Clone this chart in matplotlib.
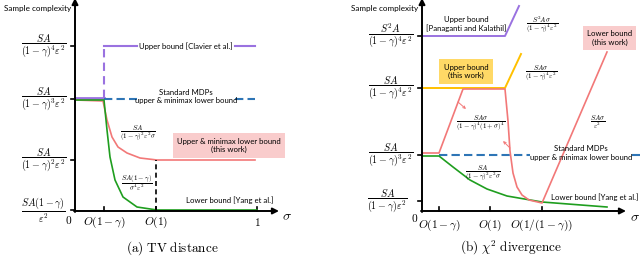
import matplotlib.pyplot as plt

plt.rcParams['mathtext.fontset'] = 'cm'
plt.rcParams['font.family'] = ['Lato', 'DejaVu Sans']

# colours (PowerPoint-like)
PURPLE = '#9a72e0'
BLUE = '#2e75b6'
GREEN = '#1f9e1f'
RED = '#f27878'
ORANGE = '#ffc000'
PINK_BOX = '#f9cccc'
YELLOW_BOX = '#ffd966'

# ---------------- (a) TV distance : schematic values (axis units) ----------------
tv_xticks = [29, 81, 182]
tv_xlabels = [r'$O(1-\gamma)$', r'$O(1)$', r'$1$']
tv_yticks = [165, 112, 51, 1]
tv_ylabels = [r'$\dfrac{SA}{(1-\gamma)^4\varepsilon^2}$',
              r'$\dfrac{SA}{(1-\gamma)^3\varepsilon^2}$',
              r'$\dfrac{SA}{(1-\gamma)^2\varepsilon^2}$',
              r'$\dfrac{SA(1-\gamma)}{\varepsilon^2}$']

tv_clavier_x = [0, 29]
tv_clavier_y = [113, 113]
tv_clavier_jump_y = [113, 165]
tv_clavier_top_x = [29, 62]
tv_clavier_tail_x = [160, 180]
tv_clavier_top_y = 165

tv_std_x = [29, 62]
tv_std_tail_x = [160, 180]
tv_std_y = 112

tv_green_x = [0, 29, 32, 35, 40, 48, 62, 82, 182]
tv_green_y = [111, 111, 81, 54, 31, 14, 4, 1, 1]

tv_red_x = [0, 28, 32, 37, 43, 52, 65, 82, 180]
tv_red_y = [111, 110, 91, 74, 64, 58, 53, 51, 51]

tv_vline_x = 81
tv_vline_y = [0, 51]

# ---------------- (b) chi^2 divergence : schematic values ----------------
chi_xticks = [17, 68, 120]
chi_xlabels = [r'$O(1-\gamma)$', r'$O(1)$', r'$O(1/(1-\gamma))$']
chi_yticks = [175, 123, 56, 10]
chi_ylabels = [r'$\dfrac{S^2A}{(1-\gamma)^4\varepsilon^2}$',
               r'$\dfrac{SA}{(1-\gamma)^4\varepsilon^2}$',
               r'$\dfrac{SA}{(1-\gamma)^3\varepsilon^2}$',
               r'$\dfrac{SA}{(1-\gamma)\varepsilon^2}$']

chi_purple_x = [0, 83, 97]
chi_purple_y = [175, 175, 205]
chi_orange_x = [0, 83, 99]
chi_orange_y = [123, 123, 157]
chi_red_x = [0, 17, 41, 83, 86, 88, 91, 95, 100, 107, 120, 185]
chi_red_y = [58, 58, 122, 122, 90, 60, 38, 24, 16, 11, 8, 159]
chi_green_x = [0, 17, 31, 48, 65, 85, 120, 185]
chi_green_y = [55, 55, 44, 31, 22, 15, 9, 4]
chi_std_x = [17, 108]
chi_std_tail_x = [210, 220]
chi_std_y = 56

fig = plt.figure(figsize=(6.4, 2.57), dpi=100)
axl = fig.add_axes([0, 0, 0.5, 1])
axr = fig.add_axes([0.5, 0, 0.5, 1])
axl.set_xlim(-75, 245)
axr.set_xlim(-102, 218)
for ax in (axl, axr):
    ax.set_ylim(-46, 211)
    ax.axis('off')

lw = 1.2
math_fs = 7.2
small_fs = 5.0
txt_fs = 5.6


def draw_axes(ax, xticks, xlabels, yticks, ylabels, xlab_y, zero_xy, sig_xy, caption, cap_x,
              last_label_x=-9):
    ax.annotate('', xy=(204, 0), xytext=(-1, 0), annotation_clip=False,
                arrowprops=dict(arrowstyle='-|>', color='black', lw=1.4,
                                mutation_scale=9, shrinkA=0, shrinkB=0))
    ax.annotate('', xy=(0, 213), xytext=(0, -1), annotation_clip=False,
                arrowprops=dict(arrowstyle='-|>', color='black', lw=1.4,
                                mutation_scale=9, shrinkA=0, shrinkB=0))
    for x, lab in zip(xticks, xlabels):
        ax.plot([x, x], [0, 4], color='black', lw=1.2)
        ax.text(x, xlab_y, lab, ha='center', va='center', fontsize=math_fs + 1)
    for i, (y, lab) in enumerate(zip(yticks, ylabels)):
        ax.plot([-4, 0], [y, y], color='black', lw=1.2)
        lx = last_label_x if i == len(yticks) - 1 else -9
        ax.text(lx, y, lab, ha='right', va='center', fontsize=math_fs)
    ax.text(zero_xy[0], zero_xy[1], r'$0$', ha='center', va='center', fontsize=math_fs + 1)
    ax.text(sig_xy[0], sig_xy[1], r'$\sigma$', ha='center', va='center', fontsize=10)
    ax.text(-4, 203, 'Sample complexity', ha='right', va='center', fontsize=txt_fs + 0.3)
    ax.text(cap_x, -37, caption, ha='center', va='center', fontsize=9.5)


draw_axes(axl, tv_xticks, tv_xlabels, tv_yticks, tv_ylabels, -11.5, (-6, -9), (212, -5),
          r'$\mathrm{(a)\ TV\ distance}$', 97)
draw_axes(axr, chi_xticks, chi_xlabels, chi_yticks, chi_ylabels, -14, (-7, -7), (213, -6),
          r'$\mathrm{(b)\ }\chi^2\mathrm{\ divergence}$', 89, last_label_x=-14)

# ---- left panel curves ----
axl.plot(tv_clavier_x, tv_clavier_y, color=PURPLE, lw=2)
axl.plot([tv_clavier_x[1]] * 2, tv_clavier_jump_y, color=PURPLE, lw=lw + 0.3, ls=(0, (4, 2.5)))
axl.plot(tv_clavier_top_x, [tv_clavier_top_y] * 2, color=PURPLE, lw=lw + 0.3)
axl.plot(tv_clavier_tail_x, [tv_clavier_top_y] * 2, color=PURPLE, lw=lw + 0.3)
axl.plot(tv_std_x, [tv_std_y] * 2, color=BLUE, lw=lw + 0.3, ls=(0, (4, 2)))
axl.plot(tv_std_tail_x, [tv_std_y] * 2, color=BLUE, lw=lw + 0.3, ls=(0, (4, 2)))
axl.plot(tv_red_x, tv_red_y, color=RED, lw=lw)
axl.plot(tv_green_x, tv_green_y, color=GREEN, lw=lw)
axl.plot([tv_vline_x] * 2, tv_vline_y, color='black', lw=1.2, ls=(0, (3, 2)))

axl.text(111, 165, 'Upper bound [Clavier et al.]', ha='center', va='center', fontsize=txt_fs)
axl.text(111, 114.5, 'Standard MDPs\nupper & minimax lower bound', ha='center', va='center',
         fontsize=txt_fs, linespacing=1.3)
axl.text(63, 78, r'$\dfrac{SA}{(1-\gamma)^2\varepsilon^2\sigma}$', ha='center', va='center',
         fontsize=small_fs)
axl.text(62, 28, r'$\dfrac{SA(1-\gamma)}{\sigma^4\varepsilon^2}$', ha='center', va='center',
         fontsize=small_fs)
axl.text(154, 65.5, 'Upper & minimax lower bound\n(this work)', ha='center', va='center',
         fontsize=txt_fs, linespacing=1.3,
         bbox=dict(boxstyle='square,pad=0.55', fc=PINK_BOX, ec='none'))
axl.text(155, 11, 'Lower bound [Yang et al.]', ha='center', va='center', fontsize=txt_fs)

# ---- right panel curves ----
axr.plot(chi_purple_x, chi_purple_y, color=PURPLE, lw=lw + 0.2)
axr.plot(chi_orange_x, chi_orange_y, color=ORANGE, lw=lw + 0.2)
axr.plot(chi_std_x, [chi_std_y] * 2, color=BLUE, lw=lw + 0.3, ls=(0, (4, 2)))
axr.plot(chi_std_tail_x, [chi_std_y] * 2, color=BLUE, lw=lw + 0.3, ls=(0, (4, 2)), clip_on=False)
axr.plot(chi_green_x, chi_green_y, color=GREEN, lw=lw)
axr.plot(chi_red_x, chi_red_y, color=RED, lw=lw)

axr.text(44, 187, 'Upper bound\n[Panaganti and Kalathil]', ha='center', va='center',
         fontsize=txt_fs, linespacing=1.3)
axr.text(120, 186, r'$\dfrac{S^2A\sigma}{(1-\gamma)^4\varepsilon^2}$', ha='center', va='center',
         fontsize=small_fs)
axr.text(44, 139.5, 'Upper bound\n(this work)', ha='center', va='center', fontsize=txt_fs,
         linespacing=1.3, bbox=dict(boxstyle='square,pad=0.55', fc=YELLOW_BOX, ec='none'))
axr.text(119, 138, r'$\dfrac{SA\sigma}{(1-\gamma)^4\varepsilon^2}$', ha='center', va='center',
         fontsize=small_fs)
axr.text(187.5, 173, 'Lower bound\n(this work)', ha='center', va='center', fontsize=txt_fs,
         linespacing=1.3, bbox=dict(boxstyle='square,pad=0.55', fc=PINK_BOX, ec='none'))
axr.text(59, 88, r'$\dfrac{SA\sigma}{(1-\gamma)^4(1+\sigma)^4}$', ha='center', va='center',
         fontsize=small_fs)
axr.text(176, 89, r'$\dfrac{SA\sigma}{\varepsilon^2}$', ha='center', va='center', fontsize=small_fs)
axr.text(159, 58, 'Standard MDPs\nupper & minimax lower bound', ha='center', va='center',
         fontsize=txt_fs, linespacing=1.3)
axr.text(61, 38, r'$\dfrac{SA}{(1-\gamma)^2\varepsilon^2\sigma}$', ha='center', va='center',
         fontsize=small_fs)
axr.text(173, 14, 'Lower bound [Yang et al.]', ha='center', va='center', fontsize=txt_fs)

for start, end in [((36, 109), (44, 102)), ((88, 63), (81, 70))]:
    axr.annotate('', xy=end, xytext=start,
                 arrowprops=dict(arrowstyle='->', color=RED, lw=0.7, mutation_scale=4,
                                 shrinkA=0, shrinkB=0))

fig.savefig('out.png', dpi=100)
